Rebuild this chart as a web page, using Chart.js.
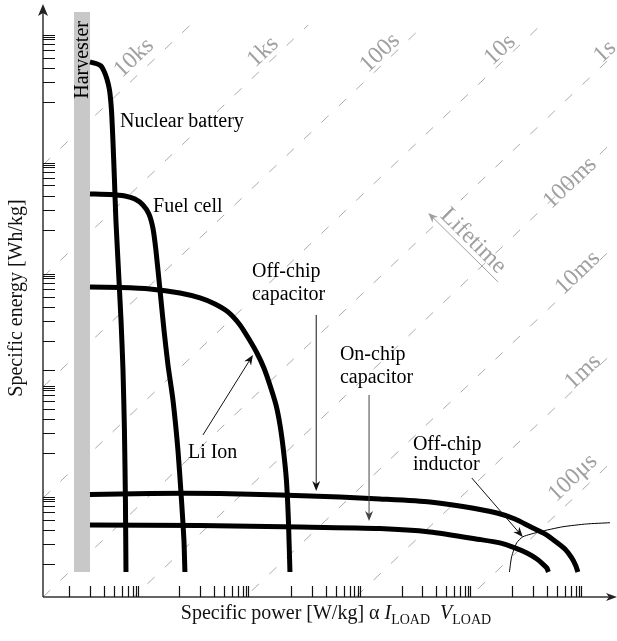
<!DOCTYPE html>
<html>
<head>
<meta charset="utf-8">
<script src="https://cdn.jsdelivr.net/npm/chart.js@4.4.1/dist/chart.umd.min.js"></script>
<style>
  html, body { margin: 0; padding: 0; background: #fff; overflow: hidden; }
  canvas { display: block; }
</style>
</head>
<body>
<canvas id="ragoneChart" width="617" height="641"></canvas>
<script>
// both axes are in "decades" (log10 units), first drawn decade = 1
const xDecades = [1, 1.993, 3.001, 3.999, 5];
const xMinorOffsets = [0, 0.188, 0.314, 0.406, 0.478, 0.532, 0.573, 0.601, 0.621];
const yDecades = [1, 2, 3.009, 4.009, 5.162];
const yMinorOffsets = [0, 0.018, 0.036, 0.081, 0.135, 0.203, 0.295, 0.421, 0.608];
const yExtraTicks = [2.144];

const harvesterX = [1.115, 1.115];
const harvesterY = [5.369, 0.324];

const nuclearX = [1.187, 1.241, 1.286, 1.313, 1.340, 1.363, 1.381, 1.394, 1.408, 1.421, 1.444, 1.467, 1.485, 1.498, 1.507, 1.512];
const nuclearY = [4.919, 4.905, 4.883, 4.838, 4.766, 4.667, 4.486, 4.216, 3.856, 3.495, 3.045, 2.595, 2.144, 1.604, 0.973, 0.324];

const fuelX = [1.187, 1.367, 1.503, 1.593, 1.665, 1.719, 1.755, 1.782, 1.819, 1.855, 1.891, 1.936, 1.981, 2.013, 2.035, 2.044];
const fuelY = [3.730, 3.725, 3.712, 3.685, 3.631, 3.550, 3.423, 3.225, 2.865, 2.505, 2.189, 1.874, 1.423, 0.973, 0.613, 0.324];

const liIonX = [1.187, 1.458, 1.728, 1.999, 2.180, 2.315, 2.432, 2.541, 2.622, 2.694, 2.757, 2.811, 2.866, 2.902, 2.933, 2.960, 2.978, 2.992];
const liIonY = [2.892, 2.887, 2.874, 2.838, 2.793, 2.739, 2.667, 2.550, 2.423, 2.297, 2.162, 2.009, 1.829, 1.649, 1.423, 1.153, 0.793, 0.324];

const offChipCapX = [1.187, 1.728, 2.360, 2.902, 3.443, 3.804, 4.256, 4.553, 4.860, 5.023, 5.158, 5.293, 5.383, 5.474, 5.537, 5.573, 5.591];
const offChipCapY = [1.023, 1.032, 1.032, 1.018, 1.000, 0.982, 0.955, 0.914, 0.856, 0.802, 0.734, 0.667, 0.604, 0.532, 0.450, 0.378, 0.324];

const onChipCapX = [1.187, 2.180, 3.082, 3.804, 4.256, 4.707, 4.887, 5.023, 5.131, 5.221, 5.275, 5.311, 5.325];
const onChipCapY = [0.748, 0.743, 0.730, 0.716, 0.685, 0.617, 0.586, 0.541, 0.495, 0.441, 0.396, 0.360, 0.324];

const inductorX = [4.973, 4.993, 5.038, 5.095, 5.248, 5.456, 5.670, 5.880];
const inductorY = [0.324, 0.462, 0.586, 0.642, 0.687, 0.732, 0.757, 0.768];

// constant-lifetime lines: y = intercept + slope * (x - xMin)
const lifetimeLabels = ['10ks', '1ks', '100s', '10s', '1s', '100ms', '10ms', '1ms', '100μs'];
const lifetimeIntercepts = [3.991, 2.982, 1.991, 0.991, 0.099, -0.676, -1.631, -2.577, -3.550];
const lifetimeSlope = 0.948;

const xMin = 0.763, xMax = 5.935, yMin = 0.099, yMax = 5.432;

// annotation placement (data units)
const lifetimeLabelPos = [[1.585, 4.955], [2.749, 5.009], [3.805, 5.0], [4.888, 5.027], [5.836, 5.009],
  [5.52, 3.829], [5.591, 3.018], [5.636, 2.126], [5.546, 1.171]];
const textNotes = [
  { text: 'Nuclear battery', x: 1.458, y: 4.333 },
  { text: 'Fuel cell', x: 1.757, y: 3.568 },
  { text: 'Off-chip', x: 2.649, y: 2.982 },
  { text: 'capacitor', x: 2.649, y: 2.775 },
  { text: 'On-chip', x: 3.443, y: 2.234 },
  { text: 'capacitor', x: 3.443, y: 2.027 },
  { text: 'Li Ion', x: 2.071, y: 1.351 },
  { text: 'Off-chip', x: 4.102, y: 1.423 },
  { text: 'inductor', x: 4.102, y: 1.243 },
];
const arrowNotes = [
  { from: [3.229, 2.640], to: [3.229, 1.054], color: '#111' },
  { from: [3.706, 1.919], to: [3.706, 0.784], color: '#444' },
  { from: [2.207, 1.559], to: [2.658, 2.279], color: '#111' },
  { from: [4.633, 1.171], to: [5.094, 0.640], color: '#111' },
];

const xy = (xs, ys) => xs.map((x, i) => ({ x: x, y: ys[i] }));

const curve = (xs, ys, width) => ({
  data: xy(xs, ys),
  showLine: true,
  borderColor: '#000',
  borderWidth: width,
  borderCapStyle: 'butt',
  borderJoinStyle: 'round',
  pointRadius: 0,
  tension: 0.2,
  order: 0,
});

const datasets = [
  curve(nuclearX, nuclearY, 5),
  curve(fuelX, fuelY, 5),
  curve(liIonX, liIonY, 5),
  curve(offChipCapX, offChipCapY, 5),
  curve(onChipCapX, onChipCapY, 5),
  curve(inductorX, inductorY, 1),
  {
    data: xy(harvesterX, harvesterY),
    showLine: true,
    borderColor: '#c8c8c8',
    borderWidth: 16,
    borderCapStyle: 'butt',
    pointRadius: 0,
    order: 1,
  },
];
lifetimeIntercepts.forEach(c => {
  datasets.push({
    data: [{ x: xMin, y: c }, { x: xMax, y: c + lifetimeSlope * (xMax - xMin) }],
    showLine: true,
    borderColor: '#ababab',
    borderWidth: 1,
    borderDash: [10, 14],
    pointRadius: 0,
    order: 2,
    clip: { left: 0, top: -20, right: 2, bottom: 0 },
  });
});

function drawArrow(ctx, x1, y1, x2, y2, color) {
  const a = Math.atan2(y2 - y1, x2 - x1);
  const c = Math.cos(a), s = Math.sin(a);
  ctx.strokeStyle = color;
  ctx.fillStyle = color;
  ctx.lineWidth = 1;
  ctx.beginPath();
  ctx.moveTo(x1, y1);
  ctx.lineTo(x2 - 6 * c, y2 - 6 * s);
  ctx.stroke();
  ctx.beginPath();
  ctx.moveTo(x2, y2);
  ctx.lineTo(x2 - 10 * c + 4 * s, y2 - 10 * s - 4 * c);
  ctx.lineTo(x2 - 7 * c, y2 - 7 * s);
  ctx.lineTo(x2 - 10 * c - 4 * s, y2 - 10 * s + 4 * c);
  ctx.closePath();
  ctx.fill();
}

const decor = {
  id: 'decor',
  afterDatasetsDraw(chart) {
    const { ctx, chartArea: area, scales: { x, y } } = chart;
    const px = v => x.getPixelForValue(v);
    const py = v => y.getPixelForValue(v);
    const serif = '"Liberation Serif", "Times New Roman", serif';
    ctx.save();

    // axes
    ctx.strokeStyle = '#333';
    ctx.lineWidth = 1.5;
    ctx.beginPath();
    ctx.moveTo(area.left, area.bottom);
    ctx.lineTo(area.left, area.top + 8);
    ctx.moveTo(area.left, area.bottom);
    ctx.lineTo(area.right - 6, area.bottom);
    ctx.stroke();
    ctx.fillStyle = '#222';
    ctx.beginPath();
    ctx.moveTo(area.left, area.top - 1);
    ctx.lineTo(area.left - 5, area.top + 11);
    ctx.lineTo(area.left, area.top + 8);
    ctx.lineTo(area.left + 5, area.top + 11);
    ctx.closePath();
    ctx.fill();
    ctx.beginPath();
    ctx.moveTo(area.right + 1, area.bottom);
    ctx.lineTo(area.right - 10, area.bottom - 4);
    ctx.lineTo(area.right - 7, area.bottom);
    ctx.lineTo(area.right - 10, area.bottom + 4);
    ctx.closePath();
    ctx.fill();

    // inward tick marks
    ctx.strokeStyle = '#111';
    ctx.lineWidth = 1.2;
    ctx.beginPath();
    xDecades.forEach(d => xMinorOffsets.forEach(o => {
      const X = Math.round(px(d + o)) + 0.5;
      ctx.moveTo(X, area.bottom);
      ctx.lineTo(X, area.bottom - 11);
    }));
    const yTicks = [];
    yDecades.forEach(d => yMinorOffsets.forEach(o => yTicks.push(d - o)));
    yExtraTicks.forEach(t => yTicks.push(t));
    yTicks.forEach(t => {
      const Y = Math.round(py(t)) + 0.5;
      ctx.moveTo(area.left, Y);
      ctx.lineTo(area.left + 12, Y);
    });
    ctx.stroke();

    // lifetime labels along the dashed lines
    const ang = Math.atan2(py(1 + lifetimeSlope) - py(1), px(2) - px(1));
    ctx.fillStyle = '#a0a0a0';
    ctx.font = '24px ' + serif;
    ctx.textAlign = 'center';
    ctx.textBaseline = 'middle';
    lifetimeLabels.forEach((t, i) => {
      ctx.save();
      ctx.translate(px(lifetimeLabelPos[i][0]), py(lifetimeLabelPos[i][1]));
      ctx.rotate(ang);
      ctx.fillText(t, 0, 0);
      ctx.restore();
    });
    ctx.save();
    ctx.translate(px(4.646), py(3.306));
    ctx.rotate(-ang + 0.02);
    ctx.fillText('Lifetime', 0, 0);
    ctx.restore();
    drawArrow(ctx, px(4.871), py(2.937), px(4.240), py(3.559), '#a0a0a0');

    // Harvester text on the grey bar
    ctx.fillStyle = '#000';
    ctx.font = '20px ' + serif;
    ctx.save();
    ctx.translate(px(harvesterX[0]) + 1, py(4.937));
    ctx.rotate(-Math.PI / 2);
    ctx.fillText('Harvester', 0, 0);
    ctx.restore();

    // curve labels
    ctx.textAlign = 'left';
    ctx.textBaseline = 'alphabetic';
    textNotes.forEach(n => ctx.fillText(n.text, px(n.x), py(n.y)));
    arrowNotes.forEach(a => drawArrow(ctx, px(a.from[0]), py(a.from[1]), px(a.to[0]), py(a.to[1]), a.color));

    // axis titles
    ctx.save();
    ctx.translate(17, 298);
    ctx.rotate(-Math.PI / 2);
    ctx.textAlign = 'center';
    ctx.textBaseline = 'middle';
    ctx.fillText('Specific energy [Wh/kg]', 0, 0);
    ctx.restore();

    const parts = [
      { t: 'Specific power [W/kg] α ', f: '20px ' + serif, dy: 0 },
      { t: 'I', f: 'italic 20px ' + serif, dy: 0 },
      { t: 'LOAD', f: '14px ' + serif, dy: 5 },
      { t: '  ', f: '20px ' + serif, dy: 0 },
      { t: 'V', f: 'italic 20px ' + serif, dy: 0 },
      { t: 'LOAD', f: '14px ' + serif, dy: 5 },
    ];
    let total = 0;
    parts.forEach(p => { ctx.font = p.f; p.w = ctx.measureText(p.t).width; total += p.w; });
    let cx = 336 - total / 2;
    parts.forEach(p => {
      ctx.font = p.f;
      ctx.fillText(p.t, cx, 619 + p.dy);
      cx += p.w;
    });

    ctx.restore();
  }
};

new Chart(document.getElementById('ragoneChart'), {
  type: 'scatter',
  data: { datasets: datasets },
  options: {
    responsive: false,
    animation: false,
    devicePixelRatio: 1,
    layout: { padding: { left: 43, right: 1, top: 5, bottom: 44 } },
    plugins: { legend: { display: false }, tooltip: { enabled: false } },
    scales: {
      x: { type: 'linear', display: false, min: xMin, max: xMax },
      y: { type: 'linear', display: false, min: yMin, max: yMax },
    },
  },
  plugins: [decor],
});
</script>
</body>
</html>
